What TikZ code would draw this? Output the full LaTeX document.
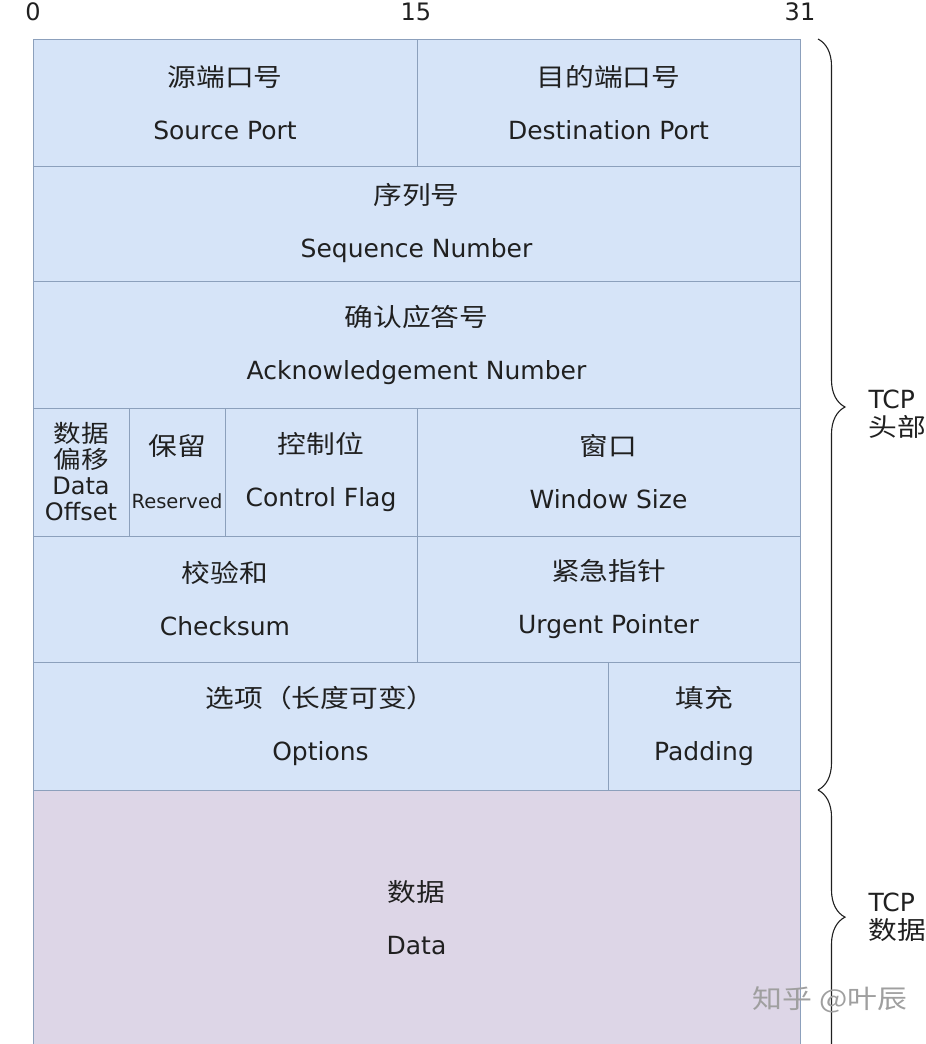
\documentclass[tikz,border=0pt]{standalone}
\usepackage{fontspec}
\setmainfont{DejaVu Sans}
\newfontfamily\cjk[FakeStretch=1.15]{Noto Sans CJK SC}
\usetikzlibrary{decorations.pathreplacing}
\definecolor{hdrblue}{RGB}{214,228,248}
\definecolor{datalilac}{RGB}{221,214,231}
\definecolor{gridline}{RGB}{140,160,188}
\definecolor{inkgray}{RGB}{32,32,32}
\tikzset{
  field/.style={draw=gridline, line width=1pt, fill=hdrblue, inner sep=0pt,
    align=center, text=inkgray, font=\fontsize{25}{53}\selectfont},
  tcpbrace/.style={decorate, decoration={brace, amplitude=27pt, aspect=#1},
    draw=inkgray, line width=1.1pt},
  bitnum/.style={text=inkgray, font=\fontsize{24}{28}\selectfont},
  sidelabel/.style={text=inkgray, align=left, anchor=west,
    font=\fontsize{25}{28}\selectfont},
}

\begin{document}
\begin{tikzpicture}[x=1pt, y=-1pt]
  \useasboundingbox (0,0) rectangle (926,1044);

  % bit positions
  \node [bitnum] (bit0)  at (33,12)  {0};
  \node [bitnum] (bit15) at (416,12) {15};
  \node [bitnum] (bit31) at (800,12) {31};

  % header words
  \node [field, minimum width=384pt, minimum height=127pt] (srcport) at (225,102.5)
    {{\cjk 源端口号}\\Source Port};
  \node [field, minimum width=383pt, minimum height=127pt] (dstport) at (608.5,102.5)
    {{\cjk 目的端口号}\\Destination Port};
  \node [field, minimum width=767pt, minimum height=115pt] (seqnum) at (416.5,223.5)
    {{\cjk 序列号}\\Sequence Number};
  \node [field, minimum width=767pt, minimum height=127pt] (acknum) at (416.5,344.5)
    {{\cjk 确认应答号}\\Acknowledgement Number};

  \node [field, minimum width=96pt, minimum height=128pt,
    font=\fontsize{24}{26}\selectfont] (offset) at (81,472)
    {{\cjk 数据}\\{\cjk 偏移}\\Data\\Offset};
  \node [field, minimum width=96pt, minimum height=128pt] (reserved) at (177,472)
    {{\cjk 保留}\\{\fontsize{19.5}{20}\selectfont Reserved}};
  \node [field, minimum width=192pt, minimum height=128pt] (flags) at (321,472)
    {{\cjk 控制位}\\Control Flag};
  \node [field, minimum width=383pt, minimum height=128pt] (window) at (608.5,472)
    {{\cjk 窗口}\\Window Size};

  \node [field, minimum width=384pt, minimum height=126pt] (checksum) at (225,599)
    {{\cjk 校验和}\\Checksum};
  \node [field, minimum width=383pt, minimum height=126pt] (urgent) at (608.5,599)
    {{\cjk 紧急指针}\\Urgent Pointer};

  \node [field, minimum width=575pt, minimum height=128pt] (options) at (320.5,726)
    {{\cjk 选项（长度可变）}\\Options};
  \node [field, minimum width=192pt, minimum height=128pt] (padding) at (704,726)
    {{\cjk 填充}\\Padding};

  % payload
  \node [field, fill=datalilac, minimum width=767pt, minimum height=256pt] (payload) at (416.5,918)
    {{\cjk 数据}\\Data};

  % braces on the right
  \coordinate (hdrtop) at (818,39);
  \coordinate (hdrbot) at (818,790);
  \coordinate (datbot) at (818,1070);
  \draw [tcpbrace=0.49]  (hdrtop) -- (hdrbot);
  \draw [tcpbrace=0.454] (hdrbot) -- (datbot);
  \node [sidelabel] (hdrlabel) at (865,414) {TCP\\{\cjk 头部}};
  \node [sidelabel] (datlabel) at (865,917) {TCP\\{\cjk 数据}};

  \node [text=gray!75, font=\fontsize{26}{30}\selectfont] (mark) at (830,1000) {\cjk 知乎 @叶辰};
\end{tikzpicture}
\end{document}
